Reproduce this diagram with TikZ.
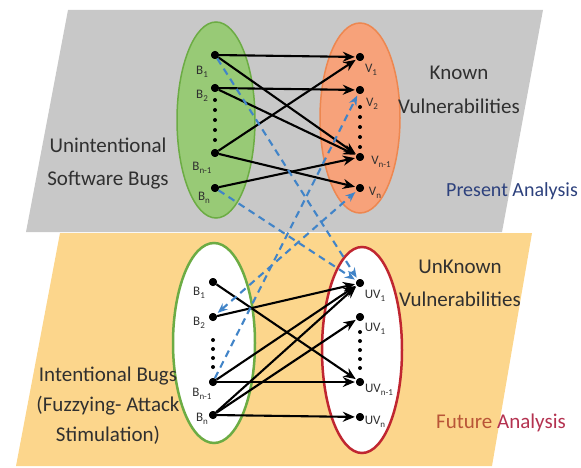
\documentclass[tikz,border=0pt]{standalone}
\usepackage{fontspec}
\setmainfont{Carlito}
\usetikzlibrary{arrows.meta}
\definecolor{graybg}{RGB}{200,200,200}
\definecolor{yellowbg}{RGB}{252,214,140}
\definecolor{greenfill}{RGB}{152,202,118}
\definecolor{greenline}{RGB}{108,172,68}
\definecolor{orangefill}{RGB}{247,162,122}
\definecolor{orangeline}{RGB}{237,135,80}
\definecolor{redline}{RGB}{192,38,48}
\definecolor{dashblue}{RGB}{65,132,200}
\definecolor{txt}{RGB}{48,48,48}
\definecolor{presblue}{RGB}{45,65,125}
\definecolor{futbrown}{RGB}{185,85,55}
\definecolor{futred}{RGB}{180,50,80}
\newcommand{\lbsub}[2]{{\fontsize{13}{13}\selectfont #1}{\fontsize{9}{9}\selectfont\raisebox{-2.5pt}{#2}}}
\begin{document}
\begin{tikzpicture}[x=1pt,y=-1pt,
  dot/.style={circle,fill=black,inner sep=0pt,minimum size=8pt},
  edot/.style={circle,fill=black,inner sep=0pt,minimum size=4pt},
  lbl/.style={inner sep=0pt,text=txt},
  big/.style={font=\fontsize{21}{33}\selectfont,text=txt,align=center,inner sep=0pt},
  arr/.style={line width=2.1pt,-{Stealth[length=12pt,width=10pt]},shorten >=1pt},
  bluedash/.style={dashblue,line width=2.1pt,dash pattern=on 7pt off 5pt,-{Stealth[length=10pt,width=8pt]},shorten >=2pt}]
\useasboundingbox (0,0) rectangle (581,468);
% planes
\fill[graybg] (68,10) -- (543,10) -- (502,232) -- (26,232) -- cycle;
\fill[yellowbg] (60,233) -- (532,233) -- (492,466) -- (16,466) -- cycle;
% ellipses
\draw[greenline,fill=greenfill,line width=1.5pt] (216,120) ellipse [x radius=39, y radius=98];
\draw[orangeline,fill=orangefill,line width=1.5pt] (360,118) ellipse [x radius=40, y radius=95];
\draw[greenline,fill=white,line width=2.5pt] (214,343) ellipse [x radius=41, y radius=100];
\draw[redline,fill=white,line width=2.5pt] (362,350) ellipse [x radius=40, y radius=103];
% top dots
\node[dot] (b1) at (215,55) {};
\node[dot] (b2) at (215,88) {};
\node[dot] (bm) at (215,153) {};
\node[dot] (bn) at (215,188) {};
\node[dot] (v1) at (360,57) {};
\node[dot] (v2) at (360,90) {};
\node[dot] (vm) at (360,157) {};
\node[dot] (vn) at (360,188) {};
% bottom dots
\node[dot] (c1) at (213,282) {};
\node[dot] (c2) at (213,317) {};
\node[dot] (cm) at (213,382) {};
\node[dot] (cn) at (213,415) {};
\node[dot] (u1) at (360,283) {};
\node[dot] (u2) at (360,317) {};
\node[dot] (um) at (360,382) {};
\node[dot] (un) at (360,417) {};
% ellipsis dots
\foreach \i/\y in {1/100,2/110,3/120,4/130,5/140} {\node[edot] (eb\i) at (215,\y) {};}
\foreach \i/\y in {1/107,2/117,3/127,4/137,5/147} {\node[edot] (ev\i) at (360,\y) {};}
\foreach \i/\y in {1/340,2/349,3/358,4/367} {\node[edot] (ec\i) at (213,\y) {};}
\foreach \i/\y in {1/332,2/341,3/350,4/359,5/368} {\node[edot] (eu\i) at (360,\y) {};}
% black arrows top
\draw[arr] (b1) -- (v1);
\draw[arr] (b1) -- (vm);
\draw[arr] (b2) -- (v2);
\draw[arr] (b2) -- (vm);
\draw[arr] (bm) -- (v1);
\draw[arr] (bm) -- (vn);
\draw[arr] (bn) -- (vm);
% black arrows bottom
\draw[arr] (c1) -- (um);
\draw[arr] (c2) -- (u1);
\draw[arr] (cm) -- (u1);
\draw[arr] (cm) -- (um);
\draw[arr] (cn) -- (u1);
\draw[arr] (cn) -- (u2);
\draw[arr] (cn) -- (un);
% blue dashed
\draw[bluedash] (b1) -- (u1);
\draw[bluedash] (bn) -- (u1);
\draw[bluedash] (cm) -- (v2);
\draw[bluedash,{Stealth[length=10pt,width=8pt]}-{Stealth[length=10pt,width=8pt]},shorten <=2pt] (c2) -- (vn);
% redraw dots on top
\foreach \n in {b1,b2,bm,bn,v1,v2,vm,vn,c1,c2,cm,cn,u1,u2,um,un} {\fill (\n) circle (4pt);}
% small labels
\node[lbl] (lb1) at (202,72) {\lbsub{B}{1}};
\node[lbl] (lb2) at (202,96) {\lbsub{B}{2}};
\node[lbl] (lbm) at (202,168) {\lbsub{B}{n-1}};
\node[lbl] (lbn) at (204,198) {\lbsub{B}{n}};
\node[lbl] (lv1) at (371,70) {\lbsub{V}{1}};
\node[lbl] (lv2) at (372,104) {\lbsub{V}{2}};
\node[lbl] (lvm) at (381,162) {\lbsub{V}{n-1}};
\node[lbl] (lvn) at (375,193) {\lbsub{V}{n}};
\node[lbl] (lc1) at (199,293) {\lbsub{B}{1}};
\node[lbl] (lc2) at (199,323) {\lbsub{B}{2}};
\node[lbl] (lcm) at (202,394) {\lbsub{B}{n-1}};
\node[lbl] (lcn) at (202,419) {\lbsub{B}{n}};
\node[lbl] (lu1) at (375,296) {\lbsub{UV}{1}};
\node[lbl] (lu2) at (375,329) {\lbsub{UV}{1}};
\node[lbl] (lum) at (379,390) {\lbsub{UV}{n-1}};
\node[lbl] (lun) at (375,422) {\lbsub{UV}{n}};
% big texts
\node[big] (t1) at (108,164) {Unintentional\\Software Bugs};
\node[big,font=\fontsize{21}{34}\selectfont] (t2) at (459,90) {Known\\Vulnerabilities};
\node[inner sep=0pt,font=\fontsize{20}{20}\selectfont,text=presblue] (t3) at (512,191) {Present Analysis};
\node[big] (t4) at (460,283) {UnKnown\\Vulnerabilities};
\node[big,font=\fontsize{21}{30}\selectfont] (t5) at (108,406) {Intentional Bugs\\(Fuzzying- Attack\\Stimulation)};
\node[inner sep=0pt,font=\fontsize{21}{21}\selectfont] (t6) at (501,423) {\textcolor{futbrown}{Future} \textcolor{futred}{Analysis}};
\end{tikzpicture}
\end{document}
